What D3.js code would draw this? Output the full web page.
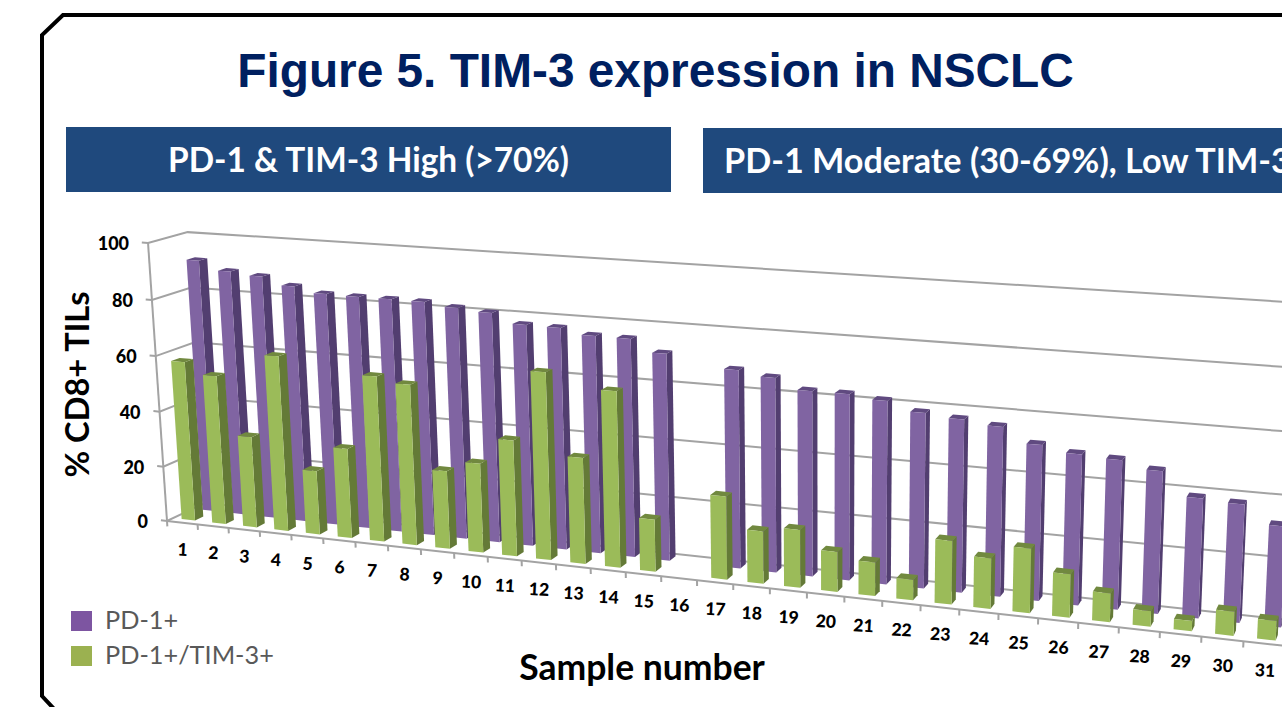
<!DOCTYPE html>
<html>
<head>
<meta charset="utf-8">
<script src="https://cdn.jsdelivr.net/npm/d3@7"></script>
<style>
  html, body { margin: 0; padding: 0; background: #fff; overflow: hidden; }
  svg { display: block; }
  .lato { font-family: Lato, "Open Sans", sans-serif; }
</style>
</head>
<body>
<div id="container"></div>
<script>
/* DATA */
const samples = d3.range(1, 32).map(String);
const seriesNames = ["PD-1+/TIM-3+", "PD-1+"];
const yTicks = [0, 20, 40, 60, 80, 100];
const pd1 = [91.6, 88.5, 87.5, 84.8, 82.9, 82.7, 82.7, 82.6, 81.4, 80.5, 77.3, 77.1, 75.3, 75.2, 71.1, null,
  67.5, 65.9, 62.5, 62.5, 61.3, 58.4, 57.3, 56, 51.2, 49.3, 48.6, 46.2, 38.7, 38, 32.3];
const pd1Tim3 = [57.7, 53.6, 32.8, 62.6, 22.8, 31.9, 58.4, 56.5, 27.4, 31.2, 40.4, 64.7, 36.6, 60.3, 17.9, null,
  28.2, 17.7, 19.5, 13.4, 11.2, 6.8, 21, 16.6, 21.1, 14.1, 9.3, 5, 3.3, 7.7, 6.2];

/* CONSTANTS */
const width = 1282, height = 707;
const colors = {
  "PD-1+": { front: "#8064a2", side: "#523e70", top: "#604a80", legend: "#7d55a1" },
  "PD-1+/TIM-3+": { front: "#9bbb59", side: "#647a37", top: "#71893f", legend: "#9bb150" }
};

const svg = d3.select("#container").append("svg")
  .attr("width", width)
  .attr("height", height);

// 3D PROJECTION, u = along samples, v = depth (0 front, 1 back wall), w = percent
function project(u, v, w) {
  const d = 1 - 0.005046 * u + 0.02744 * v - 0.00028 * w;
  return [
    (167 + 29.608 * u + 43.6 * v - 0.231 * w) / d,
    (521 + 0.772 * u - 4.2 * v - 2.848 * w) / d
  ];
}

// SCALES
const uScale = d3.scaleBand().domain(samples).range([0, 31]).paddingInner(0.56).paddingOuter(0.28);
// the back row reads a little narrower than the front one
const uScaleBack = d3.scaleBand().domain(samples).range([0.025, 31.025]).paddingInner(0.6).paddingOuter(0.3);
const vScale = d3.scaleBand().domain(seriesNames).range([0, 1.05]).paddingInner(0.581).paddingOuter(0.305);
const wScale = d3.scaleLinear().domain([0, 100]).range([0, 100]);

const line3d = d3.line().x(d => project(...d)[0]).y(d => project(...d)[1]);
const face = pts => line3d(pts) + "Z";

// FRAME
svg.append("path")
  .attr("d", "M56,711L42,696V35L63,15H1290")
  .attr("fill", "none")
  .attr("stroke", "#000")
  .attr("stroke-width", 4);

// TITLE
svg.append("text")
  .attr("x", 655.5).attr("y", 87)
  .attr("text-anchor", "middle")
  .style("font-family", "'Liberation Sans', Arial, sans-serif")
  .style("font-weight", "bold")
  .style("font-size", "47.8px")
  .attr("fill", "#002060")
  .text("Figure 5. TIM-3 expression in NSCLC");

// BANNERS
const banners = [
  { x: 66, y: 127, w: 605, h: 65, size: 33.4, label: "PD-1 & TIM-3 High (>70%)", tx: 368.5, anchor: "middle" },
  { x: 703, y: 128, w: 600, h: 65, size: 34.2, label: "PD-1 Moderate (30-69%), Low TIM-3", tx: 724, anchor: "start" }
];
svg.selectAll(".banner").data(banners).join("rect")
  .attr("class", "banner")
  .attr("x", d => d.x).attr("y", d => d.y)
  .attr("width", d => d.w).attr("height", d => d.h)
  .attr("fill", "#1f497d");
svg.selectAll(".banner-label").data(banners).join("text")
  .attr("class", "banner-label lato")
  .attr("x", d => d.tx).attr("y", d => d.y + 44.5)
  .attr("text-anchor", d => d.anchor)
  .style("font-weight", "bold")
  .style("font-size", d => d.size + "px")
  .attr("fill", "#fff")
  .text(d => d.label);

// WALL GRID
const grid = svg.append("g").attr("fill", "none").attr("stroke", "#a3a3a3").attr("stroke-width", 2);
grid.selectAll("path").data(yTicks).join("path")
  .attr("d", d => line3d([[-0.2, 0, wScale(d)], [0, 0, wScale(d)], [0, 1, wScale(d)], [34, 1, wScale(d)]]));
// axis lines and ticks
grid.append("path").attr("d", line3d([[0, 0, 0], [0, 0, 100]]));
grid.append("path").attr("d", line3d([[0, 0, 0], [34, 0, 0]]));
grid.selectAll(".xtick").data(d3.range(0, 33)).join("path")
  .attr("class", "xtick")
  .attr("d", d => line3d([[d, 0, 0], [d, 0, -2]]));

// BARS, back row first
seriesNames.slice().reverse().forEach(name => {
  const values = name === "PD-1+" ? pd1 : pd1Tim3;
  const uBand = name === "PD-1+" ? uScaleBack : uScale;
  const bars = samples.map((s, i) => ({ s, val: values[i] })).filter(d => d.val != null);
  const g = svg.append("g").attr("class", "series");
  const v0 = vScale(name), v1 = v0 + vScale.bandwidth();

  const bar = g.selectAll("g").data(bars).join("g");
  bar.append("path").attr("fill", colors[name].side).attr("d", d => {
    const u1 = uBand(d.s) + uBand.bandwidth(), w = wScale(d.val);
    return face([[u1, v0, 0], [u1, v1, 0], [u1, v1, w], [u1, v0, w]]);
  });
  bar.append("path").attr("fill", colors[name].top).attr("d", d => {
    const u0 = uBand(d.s), u1 = u0 + uBand.bandwidth(), w = wScale(d.val);
    return face([[u0, v0, w], [u1, v0, w], [u1, v1, w], [u0, v1, w]]);
  });
  bar.append("path").attr("fill", colors[name].front).attr("d", d => {
    const u0 = uBand(d.s), u1 = u0 + uBand.bandwidth(), w = wScale(d.val);
    return face([[u0, v0, 0], [u1, v0, 0], [u1, v0, w], [u0, v0, w]]);
  });
});

// Y TICK LABELS
svg.selectAll(".ylabel").data(yTicks).join("text")
  .attr("class", "ylabel lato")
  .attr("x", d => project(0, 0, wScale(d))[0] - 19)
  .attr("y", d => project(0, 0, wScale(d))[1] + 7)
  .attr("text-anchor", "end")
  .style("font-weight", "900")
  .style("font-size", "18px")
  .attr("fill", "#000")
  .text(d => d);

// X TICK LABELS
svg.selectAll(".xlabel").data(samples).join("text")
  .attr("class", "xlabel lato")
  .attr("text-anchor", "middle")
  .attr("transform", d => {
    const p = project(uScale(d) + uScale.bandwidth() / 2, 0, 0);
    return `translate(${p[0]},${p[1] + 33}) rotate(3)`;
  })
  .style("font-weight", "900")
  .style("font-size", "17.5px")
  .attr("fill", "#000")
  .text(d => d);

// AXIS TITLES
svg.append("text")
  .attr("class", "lato")
  .attr("transform", "translate(89,384.5) rotate(-90)")
  .attr("text-anchor", "middle")
  .style("font-weight", "bold")
  .style("font-size", "32.6px")
  .text("% CD8+ TILs");
svg.append("text")
  .attr("class", "lato")
  .attr("x", 642).attr("y", 679.5)
  .attr("text-anchor", "middle")
  .style("font-weight", "bold")
  .style("font-size", "35.5px")
  .text("Sample number");

// LEGEND
const legendNames = ["PD-1+", "PD-1+/TIM-3+"];
const legend = svg.selectAll(".legend").data(legendNames).join("g")
  .attr("class", "legend")
  .attr("transform", (d, i) => `translate(71,${611 + i * 35})`);
legend.append("rect").attr("width", 21).attr("height", 20).attr("fill", d => colors[d].legend);
legend.append("text")
  .attr("class", "lato")
  .attr("x", 34).attr("y", 18)
  .style("font-size", "25.3px")
  .attr("fill", "#595959")
  .text(d => d);
</script>
</body>
</html>
